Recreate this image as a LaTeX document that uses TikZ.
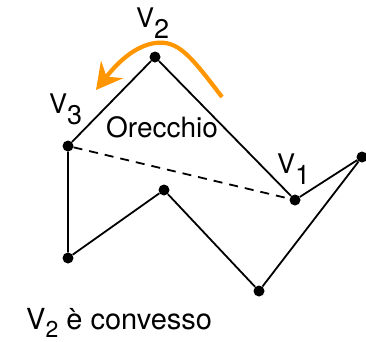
\documentclass[tikz,border=0pt]{standalone}
\usepackage{fontspec}
\setmainfont{TeX Gyre Heros}
\usepackage{tikz}
\usetikzlibrary{arrows.meta}
\definecolor{EarOrange}{RGB}{255,150,0}
\newcommand{\vlab}[1]{V\raisebox{-11pt}{#1}}

\begin{document}
\begin{tikzpicture}[x=1pt,y=-1pt,
	vtx/.style={circle,fill=black,inner sep=0pt,minimum size=11pt},
	edge/.style={line width=1.8pt},
	lab/.style={font=\fontsize{27}{29}\selectfont,inner sep=0pt,anchor=base west}]
\useasboundingbox (0,0) rectangle (366,341);
\foreach \n/\x/\y in {v1/295/200,v2/155/57,v3/68/146,p4/68/258,p5/164/190,p6/259/291,p7/362/157}
	\node[vtx] (\n) at (\x,\y){};
\draw[edge] (v1)--(v2)--(v3)--(p4)--(p5)--(p6)--(p7)--(v1);
\draw[edge,dash pattern=on 9pt off 7pt] (v3)--(v1);
% vertex labels
\node[lab] (l2) at (136,27){\vlab{2}};
\node[lab] (l3) at (49,113){\vlab{3}};
\node[lab] (l1) at (277,173){\vlab{1}};
\node[lab,font=\fontsize{28}{30}\selectfont] (ear) at (106,137){Orecchio};
\node[lab,font=\fontsize{29}{31}\selectfont] (note) at (26,329)
	{V\raisebox{-8pt}{\fontsize{23}{23}\selectfont 2} è convesso};
% turn round v2
\coordinate (a0) at (222,97);
\coordinate (a1) at (96,90);
\draw[EarOrange,line width=4.2pt,-{Stealth[length=26pt,width=28pt,inset=9pt]}]
	(a0) .. controls (190,55) and (178,40) .. (155,43)
	.. controls (135,46) and (118,62) .. (a1);
\end{tikzpicture}
\end{document}
